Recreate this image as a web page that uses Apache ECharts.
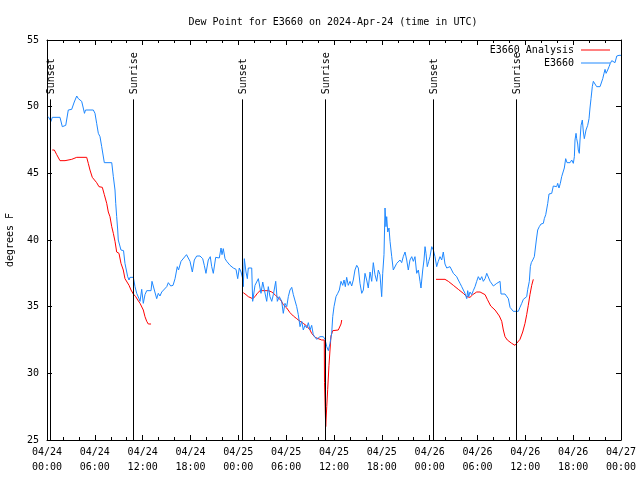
<!DOCTYPE html>
<html><head><meta charset="utf-8">
<script src="https://cdn.jsdelivr.net/npm/echarts@6/dist/echarts.min.js"></script>
<style>html,body{margin:0;padding:0;background:#fff}#c{width:640px;height:480px}</style>
</head><body><div id="c"></div>
<script>
// x values are hours since 2024-04-24 00:00 UTC
const chartTitle = 'Dew Point for E3660 on 2024-Apr-24 (time in UTC)';
const yAxisTitle = 'degrees F';
const seriesNames = ['E3660 Analysis', 'E3660'];
const xTickLabels = ['04/24\n00:00','04/24\n06:00','04/24\n12:00','04/24\n18:00',
  '04/25\n00:00','04/25\n06:00','04/25\n12:00','04/25\n18:00',
  '04/26\n00:00','04/26\n06:00','04/26\n12:00','04/26\n18:00','04/27\n00:00'];
const sunNames = ['Sunset','Sunrise','Sunset','Sunrise','Sunset','Sunrise'];
const sunHours = [0.41, 10.83, 24.50, 34.91, 48.46, 58.87];
const sunLineTop = 50.55;

const blueObs = [[0.16,49.25],[0.50,48.9],[0.66,49.2],[1.63,49.2],[1.92,48.5],[2.35,48.6],[2.67,49.75],[3.10,49.8],[3.42,50.35],[3.73,50.8],[3.93,50.6],[4.35,50.4],[4.55,49.9],[4.70,49.5],[4.83,49.75],[5.81,49.75],[6.02,49.5],[6.23,48.75],[6.44,48.0],[6.65,47.75],[6.86,47.0],[7.19,45.8],[8.12,45.8],[8.32,44.75],[8.53,43.75],[8.62,42.75],[8.74,41.75],[8.87,40.75],[8.94,40.0],[9.16,39.9],[9.28,39.25],[9.50,39.1],[9.60,39.2],[9.78,38.25],[9.91,38.1],[10.12,37.25],[10.29,37.0],[10.41,37.2],[10.83,37.2],[11.04,36.5],[11.25,36.0],[11.54,35.6],[11.67,35.4],[11.88,36.3],[12.08,35.25],[12.29,35.9],[12.51,36.2],[13.05,36.2],[13.17,36.9],[13.42,36.9],[13.76,35.6],[13.96,36.0],[14.17,35.8],[14.39,36.1],[14.59,36.2],[15.02,36.5],[15.22,36.8],[15.52,36.55],[15.81,36.6],[16.06,37.1],[16.34,38.0],[16.50,37.75],[16.81,38.4],[17.06,38.3],[17.50,38.9],[17.72,38.75],[17.94,38.4],[18.23,37.6],[18.48,38.5],[18.78,38.8],[19.19,38.8],[19.53,38.6],[19.73,38.1],[19.94,37.5],[20.23,38.5],[20.48,38.75],[20.66,38.0],[20.86,37.5],[21.16,38.7],[21.61,38.65],[21.83,39.4],[21.95,38.9],[22.11,39.35],[22.33,38.6],[22.54,38.4],[22.96,38.1],[23.37,37.9],[23.71,37.8],[23.92,37.1],[24.12,37.9],[24.34,37.6],[24.55,37.1],[24.62,36.5],[24.75,38.6],[24.96,37.6],[25.13,37.1],[25.25,37.9],[25.68,37.9],[25.80,35.4],[26.09,36.6],[26.30,36.6],[26.51,37.1],[26.63,37.25],[26.84,36.0],[27.06,36.85],[27.26,36.75],[27.56,35.4],[27.76,36.5],[27.97,35.75],[28.19,35.4],[28.39,35.9],[28.69,36.9],[28.89,35.4],[29.14,35.75],[29.44,35.4],[29.64,34.5],[29.85,35.25],[30.07,35.0],[30.27,35.75],[30.48,36.25],[30.70,36.45],[30.90,35.9],[31.11,36.0],[31.32,35.0],[31.52,34.4],[31.74,33.5],[31.95,33.9],[32.15,33.25],[32.36,33.6],[32.58,33.4],[32.78,33.8],[32.99,33.25],[33.20,33.6],[33.40,32.9],[33.62,33.05],[33.83,32.55],[34.03,32.6],[34.24,32.75],[34.66,32.75],[34.87,32.55],[35.09,32.0],[35.29,31.7],[35.50,32.25],[35.71,33.0],[35.84,34.25],[36.00,35.0],[36.25,35.75],[36.47,36.0],[36.67,36.25],[36.88,36.9],[37.09,36.6],[37.26,37.0],[37.42,36.5],[37.59,37.2],[37.79,36.6],[38.01,36.9],[38.22,36.55],[38.42,37.0],[38.63,37.75],[38.85,38.1],[39.05,37.9],[39.26,36.75],[39.48,36.0],[39.68,36.25],[39.89,37.5],[40.10,37.0],[40.30,36.4],[40.52,37.6],[40.73,36.9],[40.93,38.3],[41.14,37.4],[41.36,36.9],[41.56,37.75],[41.77,37.4],[41.98,35.75],[42.11,37.5],[42.27,38.9],[42.40,42.4],[42.52,41.0],[42.61,41.75],[42.74,40.6],[42.90,40.9],[43.03,39.9],[43.24,38.75],[43.44,37.75],[43.65,37.9],[43.87,38.25],[44.07,38.3],[44.28,38.5],[44.49,38.3],[44.69,38.75],[44.91,39.1],[45.12,38.5],[45.32,37.75],[45.53,38.5],[45.75,38.75],[45.95,38.4],[46.16,38.75],[46.37,37.5],[46.58,37.75],[46.79,36.9],[46.91,36.4],[47.13,37.75],[47.29,38.5],[47.42,39.5],[47.54,39.0],[47.70,38.0],[47.88,38.4],[48.04,38.75],[48.26,39.5],[48.46,39.25],[48.67,38.75],[48.88,38.0],[49.08,38.4],[49.30,38.75],[49.51,38.5],[49.71,39.1],[49.92,38.2],[50.14,37.9],[50.34,37.9],[50.55,38.0],[50.76,38.0],[50.97,37.5],[51.18,37.6],[51.39,37.25],[51.59,37.0],[51.81,36.75],[52.02,36.5],[52.22,36.5],[52.43,36.0],[52.65,35.6],[52.77,36.2],[52.90,35.75],[53.06,36.1],[53.27,35.9],[53.47,36.2],[53.69,36.5],[53.90,36.9],[54.10,37.25],[54.32,37.0],[54.53,37.25],[54.73,36.9],[54.95,37.1],[55.16,37.5],[55.36,37.4],[55.58,36.9],[55.79,36.75],[55.99,36.55],[56.21,36.6],[56.42,36.75],[56.62,36.9],[56.83,36.9],[56.95,35.95],[57.45,35.95],[57.67,35.95],[57.87,35.6],[58.08,34.95],[58.29,34.9],[58.49,34.65],[59.12,34.65],[59.33,34.95],[59.55,35.25],[59.75,35.55],[59.96,35.6],[60.17,35.75],[60.30,36.3],[60.50,36.9],[60.63,38.0],[60.75,38.3],[60.93,38.5],[61.13,38.75],[61.28,38.9],[61.38,40.0],[61.55,40.75],[61.75,41.0],[61.97,41.2],[62.26,41.25],[62.38,41.6],[62.56,41.9],[62.68,42.0],[62.81,42.75],[62.97,43.45],[63.10,43.3],[63.31,43.5],[63.51,44.05],[63.72,44.1],[63.93,44.0],[64.06,44.25],[64.22,43.9],[64.39,44.25],[64.56,44.75],[64.77,44.9],[64.89,45.4],[65.06,46.1],[65.23,45.8],[65.39,45.75],[65.61,45.8],[65.82,46.0],[66.02,45.75],[66.15,46.25],[66.23,47.5],[66.36,48.0],[66.44,47.6],[66.57,47.2],[66.64,46.75],[66.77,46.5],[66.86,47.5],[66.99,48.6],[67.15,49.0],[67.28,48.1],[67.40,47.6],[67.61,48.25],[67.82,48.6],[67.99,49.1],[68.11,49.9],[68.24,50.6],[68.40,51.5],[68.53,51.9],[68.74,51.8],[68.95,51.5],[69.15,51.6],[69.37,51.5],[69.58,51.6],[69.71,52.1],[69.87,52.5],[70.00,52.8],[70.13,52.5],[70.33,52.75],[70.50,53.0],[70.66,53.25],[70.84,53.45],[71.04,53.6],[71.25,53.3],[71.47,53.8],[71.75,53.85],[72.0,53.85]];

const analysisSeg1 = [[0.66,46.75],[0.92,46.75],[1.22,46.4],[1.63,45.95],[2.26,45.95],[3.10,46.05],[3.73,46.2],[4.98,46.2],[5.18,45.75],[5.39,45.25],[5.68,44.7],[5.93,44.55],[6.23,44.3],[6.52,44.0],[6.94,43.95],[7.19,43.4],[7.49,42.75],[7.69,42.1],[7.90,41.75],[8.12,41.0],[8.32,40.5],[8.53,39.9],[8.74,39.1],[9.03,39.0],[9.28,38.25],[9.57,37.75],[9.78,37.1],[10.0,37.0],[10.29,36.6],[10.54,36.25],[10.83,35.95],[11.13,35.75],[11.38,35.5],[11.67,35.25],[11.88,35.1],[12.08,34.75],[12.29,34.25],[12.51,33.9],[12.71,33.7],[13.05,33.7]];
const analysisSeg2 = [[24.62,36.05],[24.96,35.9],[25.25,35.75],[25.80,35.6],[26.09,35.75],[26.38,36.0],[26.72,36.2],[27.76,36.2],[28.19,36.1],[28.60,35.9],[29.01,35.65],[29.32,35.5],[29.64,35.15],[30.07,34.9],[30.48,34.55],[30.90,34.3],[31.32,34.1],[31.74,33.9],[32.15,33.75],[32.58,33.55],[32.99,33.25],[33.20,33.0],[33.62,32.7],[33.83,32.55],[34.46,32.5],[34.78,32.5],[34.81,29.3],[34.96,26.0],[35.09,27.5],[35.21,28.8],[35.37,30.6],[35.50,31.75],[35.62,32.8],[35.84,33.2],[36.54,33.25],[36.75,33.4],[36.88,33.7],[36.97,34.0]];
const analysisSeg3 = [[48.80,37.05],[49.92,37.05],[50.34,36.9],[50.97,36.6],[51.59,36.3],[52.22,36.0],[52.65,35.75],[53.06,35.7],[53.40,35.9],[53.90,36.1],[54.32,36.1],[54.95,35.9],[55.23,35.55],[55.66,35.05],[56.20,34.75],[56.74,34.3],[57.04,33.9],[57.24,33.25],[57.45,32.75],[57.74,32.5],[58.29,32.25],[58.70,32.1],[58.92,32.0],[59.33,32.55],[59.67,33.1],[59.96,33.75],[60.17,34.4],[60.37,35.1],[60.58,35.9],[60.80,36.6],[61.0,37.05]];

const FONT = '"DejaVu Sans Mono", "Liberation Mono", monospace';
const X_MIN = 0, X_MAX = 72, X_STEP = 6, Y_MIN = 25, Y_MAX = 55, Y_STEP = 5;

const chart = echarts.init(document.getElementById('c'), null, {renderer: 'canvas'});

const xBase = {
  type: 'value', min: X_MIN, max: X_MAX, interval: X_STEP,
  axisLine: {show: true, onZero: false, lineStyle: {color: '#000', width: 1}},
  axisTick: {show: true, inside: true, length: 5, lineStyle: {color: '#000'}},
  minorTick: {show: true, splitNumber: 3, length: 3, lineStyle: {color: '#000'}},
  splitLine: {show: false}, minorSplitLine: {show: false}
};
const yBase = {
  type: 'value', min: Y_MIN, max: Y_MAX, interval: Y_STEP,
  axisLine: {show: true, onZero: false, lineStyle: {color: '#000', width: 1}},
  axisTick: {show: true, inside: true, length: 5, lineStyle: {color: '#000'}},
  splitLine: {show: false}
};

const redColor = '#ff0000', blueColor = '#1e88ff';
const lineCommon = {type: 'line', symbol: 'none', showSymbol: false, animation: false, connectNulls: false};

chart.setOption({
  backgroundColor: '#fff',
  animation: false,
  title: {
    text: chartTitle, left: 328, top: 12, textAlign: 'center',
    textStyle: {fontFamily: FONT, fontSize: 10, fontWeight: 'normal', color: '#000'}
  },
  legend: {
    data: seriesNames.map(n => ({name: n, icon: 'rect'})), orient: 'vertical', align: 'right',
    right: 30, top: 45, padding: 0,
    itemWidth: 29, itemHeight: 1, itemGap: 3,
    textStyle: {fontFamily: FONT, fontSize: 10, color: '#000', lineHeight: 10, padding: [0, 2, 0, 0]}
  },
  grid: {left: 47, right: 19, top: 40, bottom: 40, containLabel: false, outerBoundsMode: 'none'},
  xAxis: [
    Object.assign({}, xBase, {position: 'bottom',
      axisLabel: {show: true, margin: 5, fontFamily: FONT, fontSize: 10, color: '#000', lineHeight: 15,
        formatter: v => xTickLabels[Math.round((v - X_MIN) / X_STEP)]}}),
    Object.assign({}, xBase, {position: 'top', axisLabel: {show: false}})
  ],
  yAxis: [
    Object.assign({}, yBase, {position: 'left', name: yAxisTitle, nameLocation: 'middle', nameGap: 32, nameRotate: 90,
      nameTextStyle: {fontFamily: FONT, fontSize: 10, color: '#000'},
      axisLabel: {show: true, margin: 8, fontFamily: FONT, fontSize: 10, color: '#000'}}),
    Object.assign({}, yBase, {position: 'right', axisLabel: {show: false}})
  ],
  series: [
    Object.assign({}, lineCommon, {
      name: seriesNames[0], z: 3,
      data: analysisSeg1.concat([[13.5, '-']], analysisSeg2, [[40, '-']], analysisSeg3),
      lineStyle: {color: redColor, width: 1}, itemStyle: {color: redColor}
    }),
    Object.assign({}, lineCommon, {
      name: seriesNames[1], z: 4,
      data: blueObs,
      lineStyle: {color: blueColor, width: 1}, itemStyle: {color: blueColor}
    }),
    {
      type: 'custom', name: 'sun', z: 5, silent: true, animation: false,
      data: sunHours.map(h => [h, sunLineTop]),
      renderItem: function (params, api) {
        const p0 = api.coord([api.value(0), Y_MIN]);
        const p1 = api.coord([api.value(0), api.value(1)]);
        const x = Math.round(p0[0]) + 0.5;
        return {
          type: 'group',
          children: [
            {type: 'line', shape: {x1: x, y1: p0[1], x2: x, y2: p1[1]}, style: {stroke: '#000', lineWidth: 1}},
            {type: 'text', x: x + 1, y: p1[1] - 5, rotation: Math.PI / 2,
              style: {text: sunNames[params.dataIndex], fill: '#000', font: '10px ' + FONT, align: 'left', verticalAlign: 'middle'}}
          ]
        };
      }
    }
  ]
});
</script>
</body></html>
